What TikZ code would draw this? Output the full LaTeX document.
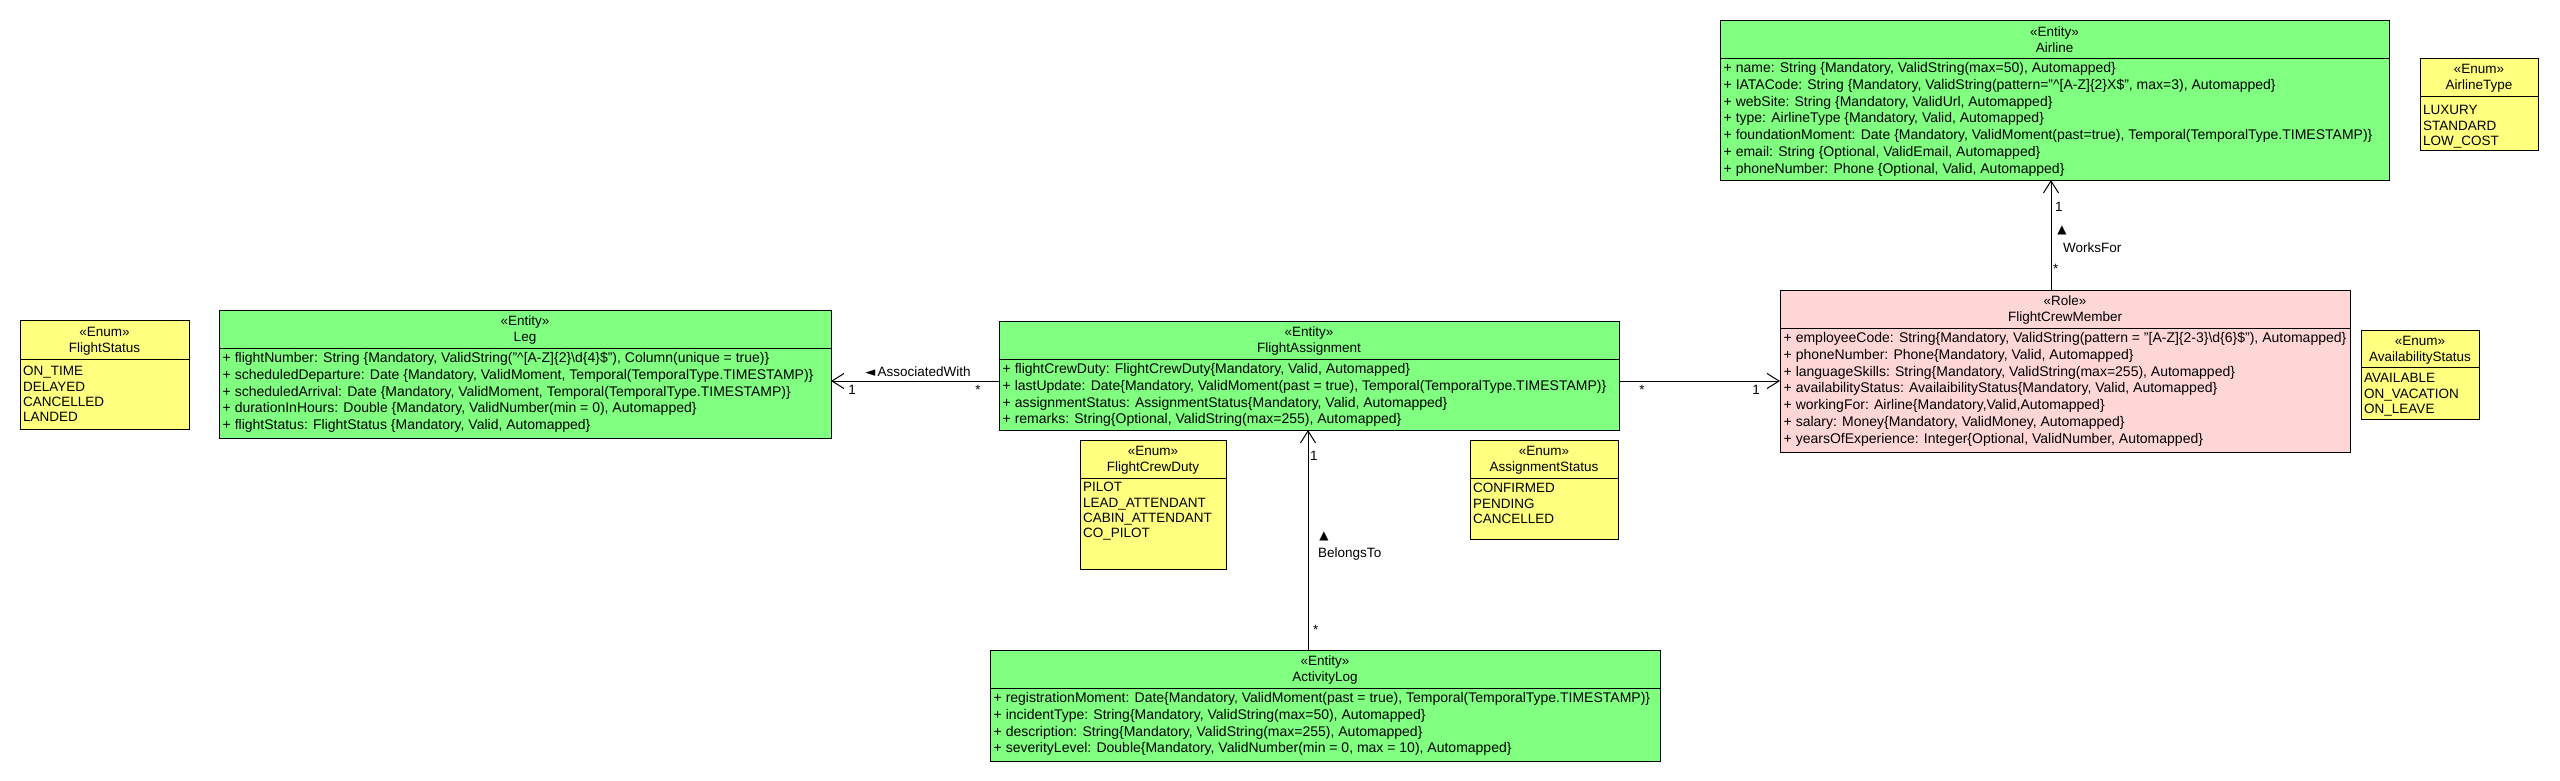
\documentclass[tikz,border=0pt]{standalone}
\usepackage{fontspec}
\setmainfont{Liberation Sans}
\newfontfamily\symfont{DejaVu Sans}
\usetikzlibrary{arrows.meta}
\definecolor{entgreen}{HTML}{80FF80}
\definecolor{rolepink}{HTML}{FFD6D6}
\definecolor{enumyellow}{HTML}{FFFF80}
\tikzset{
  box/.style={draw=black, line width=1pt, anchor=north west, inner sep=0pt, outer sep=0pt},
  entity/.style={box, fill=entgreen},
  role/.style={box, fill=rolepink},
  enumbox/.style={box, fill=enumyellow},
  hdr/.style={align=center, inner sep=0pt, font=\fontsize{13.5}{16}\selectfont},
  body/.style={align=left, anchor=north west, inner xsep=3.5pt, inner ysep=2.5pt, font=\fontsize{14}{16.8}\selectfont},
  ebody/.style={align=left, anchor=north west, inner xsep=3pt, inner ysep=6pt, font=\fontsize{13.5}{15.2}\selectfont},
  sepline/.style={line width=1pt},
  assoc/.style={line width=1pt, -{Straight Barb[length=12pt,width=15pt,line width=1pt]}},
  lbl/.style={font=\fontsize{13.5}{15}\selectfont, inner sep=0pt},
  tri/.style={font=\symfont\fontsize{12}{14}\selectfont, inner sep=0pt},
}
\begin{document}
\begin{tikzpicture}[x=1pt,y=-1pt]
\useasboundingbox (0,0) rectangle (2560,780);

% ---------- FlightStatus ----------
\node[enumbox, minimum width=169pt, minimum height=109pt] (fs) at (20,320) {};
\draw[sepline] ([yshift=-39pt]fs.north west) -- ([yshift=-39pt]fs.north east);
\node[hdr] (fsh) at ([yshift=-21pt]fs.north) {«Enum»\\FlightStatus};
\node[ebody] (fsb) at ([yshift=-39pt]fs.north west) {\strut ON\_TIME\\DELAYED\\CANCELLED\\LANDED};

% ---------- Leg ----------
\node[entity, minimum width=612pt, minimum height=128pt] (leg) at (219,310) {};
\draw[sepline] ([yshift=-38pt]leg.north west) -- ([yshift=-38pt]leg.north east);
\node[hdr] (legh) at ([yshift=-20pt]leg.north) {«Entity»\\Leg};
\node[body] (legb) at ([yshift=-38pt]leg.north west) {\strut + flightNumber: String \{Mandatory, ValidString("\textasciicircum[A-Z]\{2\}\textbackslash d\{4\}\$"), Column(unique = true)\}\\
+ scheduledDeparture: Date \{Mandatory, ValidMoment, Temporal(TemporalType.TIMESTAMP)\}\\
+ scheduledArrival: Date \{Mandatory, ValidMoment, Temporal(TemporalType.TIMESTAMP)\}\\
+ durationInHours: Double \{Mandatory, ValidNumber(min = 0), Automapped\}\\
+ flightStatus: FlightStatus \{Mandatory, Valid, Automapped\}};

% ---------- FlightAssignment ----------
\node[entity, minimum width=620pt, minimum height=109pt] (fa) at (999,321) {};
\draw[sepline] ([yshift=-38pt]fa.north west) -- ([yshift=-38pt]fa.north east);
\node[hdr] (fah) at ([yshift=-20pt]fa.north) {«Entity»\\FlightAssignment};
\node[body] (fab) at ([yshift=-38pt]fa.north west) {\strut + flightCrewDuty: FlightCrewDuty\{Mandatory, Valid, Automapped\}\\
+ lastUpdate: Date\{Mandatory, ValidMoment(past = true), Temporal(TemporalType.TIMESTAMP)\}\\
+ assignmentStatus: AssignmentStatus\{Mandatory, Valid, Automapped\}\\
+ remarks: String\{Optional, ValidString(max=255), Automapped\}};

% ---------- FlightCrewDuty ----------
\node[enumbox, minimum width=146pt, minimum height=129pt] (fcd) at (1080,440) {};
\draw[sepline] ([yshift=-38pt]fcd.north west) -- ([yshift=-38pt]fcd.north east);
\node[hdr] (fcdh) at ([yshift=-20pt]fcd.north) {«Enum»\\FlightCrewDuty};
\node[ebody] (fcdb) at ([yshift=-35pt]fcd.north west) {\strut PILOT\\LEAD\_ATTENDANT\\CABIN\_ATTENDANT\\CO\_PILOT};

% ---------- AssignmentStatus ----------
\node[enumbox, minimum width=148pt, minimum height=99pt] (as) at (1470,440) {};
\draw[sepline] ([yshift=-38pt]as.north west) -- ([yshift=-38pt]as.north east);
\node[hdr] (ash) at ([yshift=-20pt]as.north) {«Enum»\\AssignmentStatus};
\node[ebody] (asb) at ([yshift=-36pt]as.north west) {\strut CONFIRMED\\PENDING\\CANCELLED};

% ---------- ActivityLog ----------
\node[entity, minimum width=670pt, minimum height=111pt] (al) at (990,650) {};
\draw[sepline] ([yshift=-38pt]al.north west) -- ([yshift=-38pt]al.north east);
\node[hdr] (alh) at ([yshift=-20pt]al.north) {«Entity»\\ActivityLog};
\node[body] (alb) at ([yshift=-38pt]al.north west) {\strut + registrationMoment: Date\{Mandatory, ValidMoment(past = true), Temporal(TemporalType.TIMESTAMP)\}\\
+ incidentType: String\{Mandatory, ValidString(max=50), Automapped\}\\
+ description: String\{Mandatory, ValidString(max=255), Automapped\}\\
+ severityLevel: Double\{Mandatory, ValidNumber(min = 0, max = 10), Automapped\}};

% ---------- FlightCrewMember ----------
\node[role, minimum width=570pt, minimum height=162pt] (fcm) at (1780,290) {};
\draw[sepline] ([yshift=-38pt]fcm.north west) -- ([yshift=-38pt]fcm.north east);
\node[hdr] (fcmh) at ([yshift=-20pt]fcm.north) {«Role»\\FlightCrewMember};
\node[body] (fcmb) at ([yshift=-38pt]fcm.north west) {\strut + employeeCode: String\{Mandatory, ValidString(pattern = "[A-Z]\{2-3\}\textbackslash d\{6\}\$"), Automapped\}\\
+ phoneNumber: Phone\{Mandatory, Valid, Automapped\}\\
+ languageSkills: String\{Mandatory, ValidString(max=255), Automapped\}\\
+ availabilityStatus: AvailaibilityStatus\{Mandatory, Valid, Automapped\}\\
+ workingFor: Airline\{Mandatory,Valid,Automapped\}\\
+ salary: Money\{Mandatory, ValidMoney, Automapped\}\\
+ yearsOfExperience: Integer\{Optional, ValidNumber, Automapped\}};

% ---------- AvailabilityStatus ----------
\node[enumbox, minimum width=118pt, minimum height=89pt] (avs) at (2361,330) {};
\draw[sepline] ([yshift=-37pt]avs.north west) -- ([yshift=-37pt]avs.north east);
\node[hdr] (avsh) at ([yshift=-20pt]avs.north) {«Enum»\\AvailabilityStatus};
\node[ebody] (avsb) at ([yshift=-36pt]avs.north west) {\strut AVAILABLE\\ON\_VACATION\\ON\_LEAVE};

% ---------- Airline ----------
\node[entity, minimum width=669pt, minimum height=160pt] (air) at (1720,20) {};
\draw[sepline] ([yshift=-38pt]air.north west) -- ([yshift=-38pt]air.north east);
\node[hdr] (airh) at ([yshift=-20pt]air.north) {«Entity»\\Airline};
\node[body] (airb) at ([yshift=-38pt]air.north west) {\strut + name: String \{Mandatory, ValidString(max=50), Automapped\}\\
+ IATACode: String \{Mandatory, ValidString(pattern="\textasciicircum[A-Z]\{2\}X\$", max=3), Automapped\}\\
+ webSite: String \{Mandatory, ValidUrl, Automapped\}\\
+ type: AirlineType \{Mandatory, Valid, Automapped\}\\
+ foundationMoment: Date \{Mandatory, ValidMoment(past=true), Temporal(TemporalType.TIMESTAMP)\}\\
+ email: String \{Optional, ValidEmail, Automapped\}\\
+ phoneNumber: Phone \{Optional, Valid, Automapped\}};

% ---------- AirlineType ----------
\node[enumbox, minimum width=118pt, minimum height=92pt] (at) at (2420,58) {};
\draw[sepline] ([yshift=-38pt]at.north west) -- ([yshift=-38pt]at.north east);
\node[hdr] (ath) at ([yshift=-20pt]at.north) {«Enum»\\AirlineType};
\node[ebody] (atb) at ([yshift=-40pt]at.north west) {\strut LUXURY\\STANDARD\\LOW\_COST};

% ---------- connectors ----------
\coordinate (ya) at (0,381);
\coordinate (xb) at (1308,0);
\coordinate (xw) at (2051,0);
\draw[assoc] (fa.west |- ya) -- (leg.east |- ya);
\draw[assoc] (fa.east |- ya) -- (fcm.west |- ya);
\draw[assoc] (al.north -| xb) -- (fa.south -| xb);
\draw[assoc] (fcm.north -| xw) -- (air.south -| xw);

% AssociatedWith labels
\node[lbl, anchor=base] (awl) at (918,376) {{\symfont\fontsize{13}{14}\selectfont ◄}\,AssociatedWith};
\node[lbl, anchor=base] (aw1) at (852,394) {1};
\node[lbl, anchor=base] (aw2) at (978,394) {*};
% FA - FCM labels
\node[lbl, anchor=base] (fm1) at (1642,394) {*};
\node[lbl, anchor=base] (fm2) at (1756,394) {1};
% BelongsTo labels
\node[lbl, anchor=base west] (bt1) at (1310,460) {1};
\node[tri] (btt) at (1324,536) {▲};
\node[lbl, anchor=base west] (btl) at (1318,557) {BelongsTo};
\node[lbl, anchor=base west] (bt2) at (1313,634) {*};
% WorksFor labels
\node[lbl, anchor=base west] (wf1) at (2055,211) {1};
\node[tri] (wft) at (2062,230) {▲};
\node[lbl, anchor=base west] (wfl) at (2063,252) {WorksFor};
\node[lbl, anchor=base west] (wf2) at (2053,273) {*};
\end{tikzpicture}
\end{document}
